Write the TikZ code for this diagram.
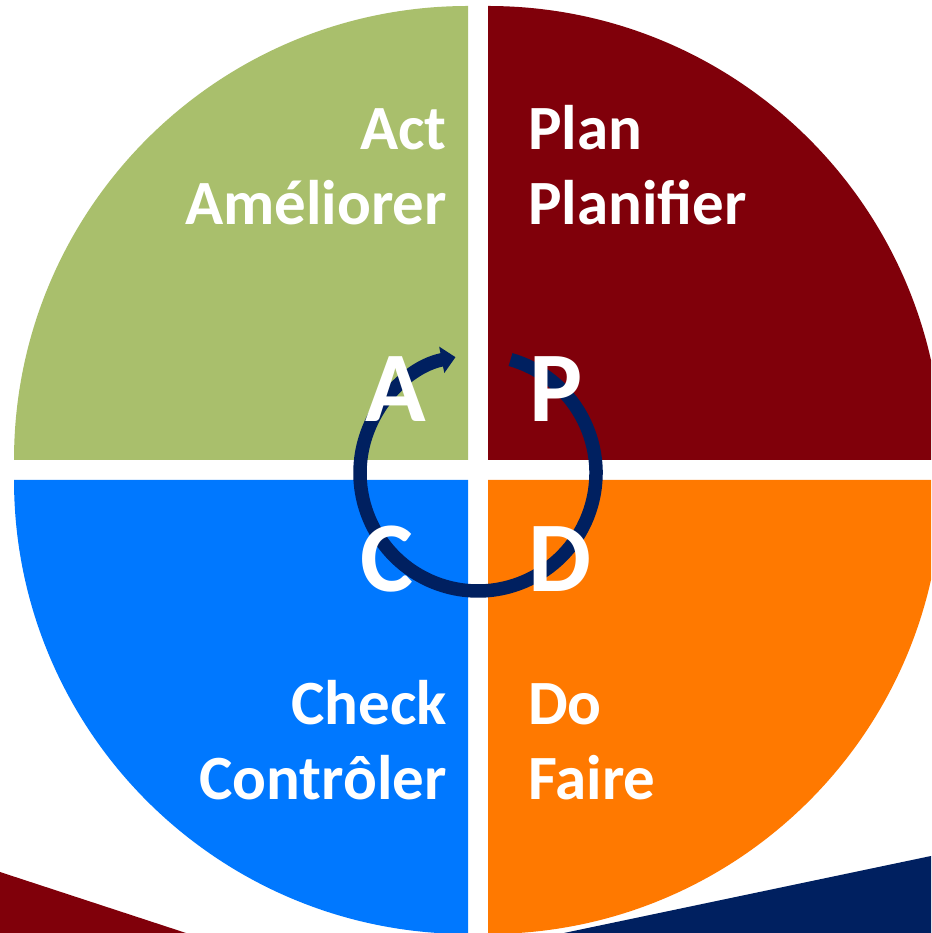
\documentclass[tikz,border=0pt]{standalone}
\usepackage{fontspec}
\setmainfont{Carlito}
\usetikzlibrary{arrows.meta}
\definecolor{qgreen}{HTML}{A9BF6C}
\definecolor{qred}{HTML}{80000A}
\definecolor{qblue}{HTML}{0078FF}
\definecolor{qorange}{HTML}{FF7900}
\definecolor{qnavy}{HTML}{002060}
\tikzset{
  lbl/.style={text=white, inner sep=0pt, font=\bfseries\fontsize{63}{75}\selectfont},
  big/.style={text=white, inner sep=0pt, anchor=base, font=\bfseries\fontsize{100}{110}\selectfont},
}
\begin{document}
\begin{tikzpicture}[x=1pt,y=1pt]
\useasboundingbox (0,0) rectangle (931,933);
\clip (0,0) rectangle (931,933);
\fill[white] (0,0) rectangle (931,933);
% background wedges
\fill[qred] (0,61) -- (186,0) -- (0,0) -- cycle;
\fill[qnavy] (564,0) -- (931,77) -- (931,0) -- cycle;
% quadrants
\fill[qgreen] (468,473) -- ++(-454,0) arc[start angle=180, end angle=90, radius=454] -- cycle;
\fill[qred] (488,473) -- ++(0,454) arc[start angle=90, end angle=0, radius=454] -- cycle;
\fill[qblue] (468,453) -- ++(-454,0) arc[start angle=180, end angle=270, radius=454] -- cycle;
\fill[qorange] (488,453) -- ++(454,0) arc[start angle=0, end angle=-90, radius=454] -- cycle;
% cycle arrow
\coordinate (ctr) at (478,460);
\draw[qnavy, line width=13.5pt, -{Triangle[length=14pt,width=26pt]}]
  ([shift={(74:118)}]ctr) arc[start angle=74, end angle=-259, radius=118];
% big letters
\node[big] (A) at (396,511) {A};
\node[big] (P) at (556,511) {P};
\node[big] (C) at (387,341) {C};
\node[big] (D) at (560,341) {D};
% labels
\node[lbl, anchor=base east] (act) at (447,783) {Act};
\node[lbl, anchor=base east] (ame) at (447,708) {Améliorer};
\node[lbl, anchor=base west] (plan) at (528,783) {Plan};
\node[lbl, anchor=base west] (planif) at (528,708) {Planifier};
\node[lbl, anchor=base east] (check) at (447,208) {Check};
\node[lbl, anchor=base east] (ctrl) at (447,133) {Contrôler};
\node[lbl, anchor=base west] (do) at (528,208) {Do};
\node[lbl, anchor=base west] (faire) at (528,133) {Faire};
\end{tikzpicture}
\end{document}
